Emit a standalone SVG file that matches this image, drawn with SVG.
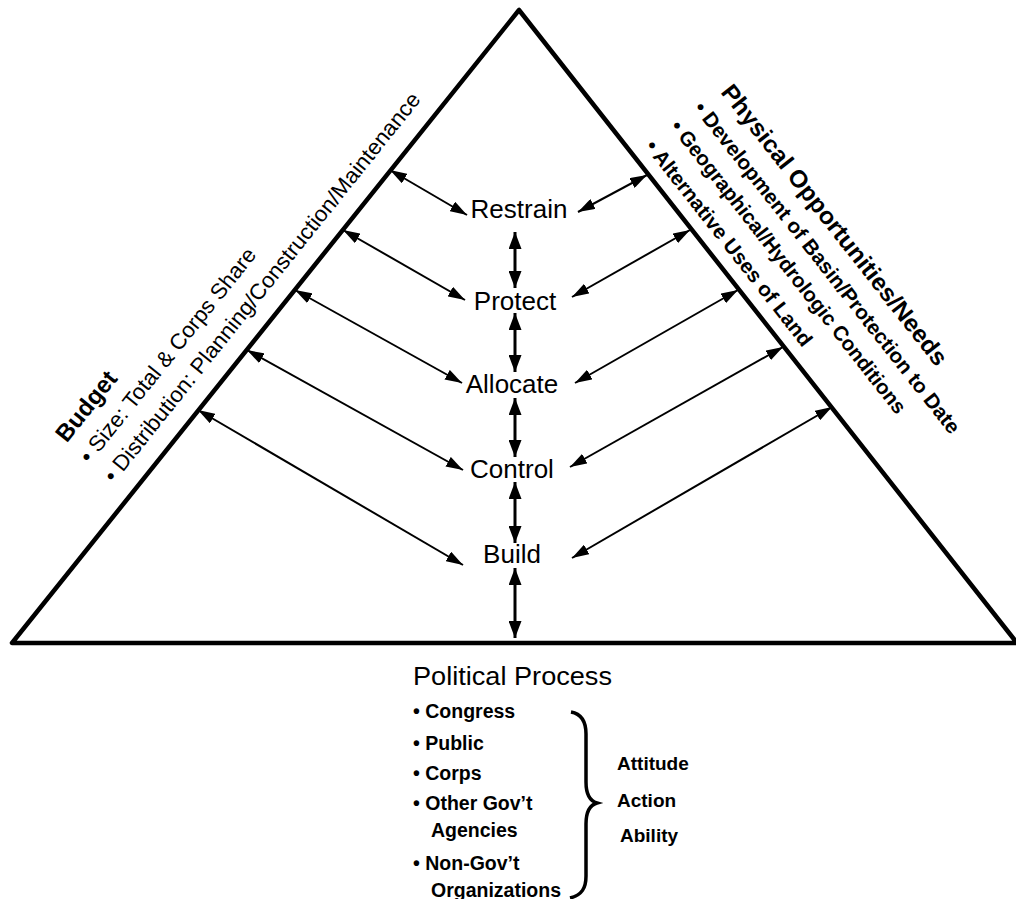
<svg xmlns="http://www.w3.org/2000/svg" width="1016" height="899" viewBox="0 0 1016 899">
  <style>
    text { font-family: "Liberation Sans", Arial, sans-serif; fill: #000; }
    .stage { font-size: 26px; text-anchor: middle; }
    .side { font-size: 22px; }
    .sideb { font-size: 20.5px; font-weight: bold; }
    .head { font-size: 24px; font-weight: bold; }
    .pp { font-size: 26px; }
    .li { font-size: 19.5px; font-weight: bold; }
    .aa { font-size: 19px; font-weight: bold; }
    .link { stroke: #000; stroke-width: 2; fill: none; marker-start: url(#tip); marker-end: url(#tip); }
    .step { stroke: #000; stroke-width: 3; fill: none; marker-start: url(#tipv); marker-end: url(#tipv); }
  </style>
  <defs>
    <marker id="tip" viewBox="0 0 17 11" refX="17" refY="5.5" markerWidth="17" markerHeight="11" markerUnits="userSpaceOnUse" orient="auto-start-reverse">
      <path d="M0,0 L17,5.5 L0,11 z" fill="#000"/>
    </marker>
    <marker id="tipv" viewBox="0 0 17 13" refX="17" refY="6.5" markerWidth="17" markerHeight="13" markerUnits="userSpaceOnUse" orient="auto-start-reverse">
      <path d="M0,0 L17,6.5 L0,13 z" fill="#000"/>
    </marker>
  </defs>

  <rect width="1016" height="899" fill="#fff"/>

  <!-- outer pyramid -->
  <g id="pyramid">
    <polygon points="519,10 12,643 1017,643" fill="none" stroke="#000" stroke-width="4.5" stroke-linejoin="round"/>
  </g>

  <!-- stages up the middle -->
  <g id="restrain"><text class="stage" x="519" y="218">Restrain</text></g>
  <g id="protect"><text class="stage" x="515" y="310">Protect</text></g>
  <g id="allocate"><text class="stage" x="512" y="393">Allocate</text></g>
  <g id="control"><text class="stage" x="512" y="478">Control</text></g>
  <g id="build"><text class="stage" x="512" y="563">Build</text></g>

  <!-- budget side, along the left edge -->
  <g id="budget" transform="translate(12,643) rotate(-51.31)">
    <text class="head" x="190" y="-82">Budget</text>
    <text class="side" x="188" y="-51" textLength="268" lengthAdjust="spacingAndGlyphs">• Size: Total &amp; Corps Share</text>
    <text class="side" x="188" y="-20" textLength="492" lengthAdjust="spacingAndGlyphs">• Distribution: Planning/Construction/Maintenance</text>
  </g>

  <!-- physical side, along the right edge -->
  <g id="physical" transform="translate(519,10) rotate(51.81)">
    <text class="head" x="189" y="-107" textLength="350" lengthAdjust="spacingAndGlyphs">Physical Opportunities/Needs</text>
    <text class="sideb" x="185" y="-76" textLength="416" lengthAdjust="spacingAndGlyphs">• Development of Basin/Protection to Date</text>
    <text class="sideb" x="185" y="-46" textLength="367" lengthAdjust="spacingAndGlyphs">• Geographical/Hydrologic Conditions</text>
    <text class="sideb" x="185" y="-14" textLength="256" lengthAdjust="spacingAndGlyphs">• Alternative Uses of Land</text>
  </g>

  <!-- political process, under the base -->
  <g id="political">
    <text class="pp" x="413" y="685" textLength="199" lengthAdjust="spacingAndGlyphs">Political Process</text>
    <text class="li" x="413" y="718">• Congress</text>
    <text class="li" x="413" y="750">• Public</text>
    <text class="li" x="413" y="780">• Corps</text>
    <text class="li" x="413" y="810">• Other Gov’t</text>
    <text class="li" x="431" y="837">Agencies</text>
    <text class="li" x="413" y="870">• Non-Gov’t</text>
    <text class="li" x="431" y="897">Organizations</text>
    <path d="M571,712 C582,714 586,722 586,734 L586,782 C586,795 590,801 597,803 C590,805 586,811 586,824 L586,876 C586,888 582,895 570,898" fill="none" stroke="#000" stroke-width="3.5"/>
    <text class="aa" x="617" y="770">Attitude</text>
    <text class="aa" x="617" y="807">Action</text>
    <text class="aa" x="620" y="842">Ability</text>
  </g>

  <!-- connectors -->
  <g id="connectors">
    <line class="step" x1="515" y1="232" x2="515" y2="288"/>
    <line class="step" x1="515" y1="313" x2="515" y2="372"/>
    <line class="step" x1="515" y1="398" x2="515" y2="457"/>
    <line class="step" x1="515" y1="482" x2="515" y2="543"/>
    <line class="step" x1="515" y1="568" x2="515" y2="638"/>

    <line class="link" x1="390" y1="170" x2="467" y2="215"/>
    <line class="link" x1="343" y1="230" x2="465" y2="300"/>
    <line class="link" x1="295" y1="290" x2="462" y2="383"/>
    <line class="link" x1="247" y1="350" x2="463" y2="470"/>
    <line class="link" x1="198" y1="410" x2="463" y2="565"/>

    <line class="link" x1="647" y1="175" x2="578" y2="212"/>
    <line class="link" x1="690" y1="230" x2="572" y2="297"/>
    <line class="link" x1="738" y1="290" x2="575" y2="383"/>
    <line class="link" x1="783" y1="347" x2="570" y2="467"/>
    <line class="link" x1="832" y1="407" x2="572" y2="558"/>
  </g>
</svg>
